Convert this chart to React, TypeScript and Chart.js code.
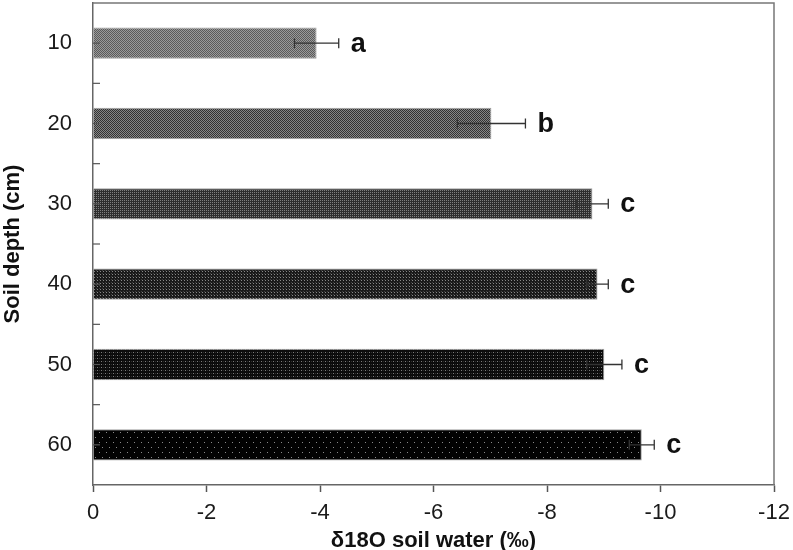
import React, { useEffect, useRef } from "react";
import { Chart, registerables } from "chart.js";

Chart.register(...registerables);

const depths = ["10", "20", "30", "40", "50", "60"];
const means = [-3.94, -7.02, -8.8, -8.89, -9.01, -9.67];
const errors = [0.39, 0.6, 0.28, 0.19, 0.31, 0.22];
const letters = ["a", "b", "c", "c", "c", "c"];
const xTicks = [0, -2, -4, -6, -8, -10, -12];

type Dot = [number, number, string];
function makePattern(w: number, h: number, bg: string, dots: Dot[]): CanvasPattern | string {
  const c = document.createElement("canvas");
  c.width = w;
  c.height = h;
  const g = c.getContext("2d");
  if (!g) return bg;
  g.fillStyle = bg;
  g.fillRect(0, 0, w, h);
  for (const [x, y, col] of dots) {
    g.fillStyle = col;
    g.fillRect(x, y, 1, 1);
  }
  return g.createPattern(c, "repeat") || bg;
}

export default function App() {
  const ref = useRef<HTMLCanvasElement | null>(null);

  useEffect(() => {
    if (!ref.current) return;
    const patterns = [
      makePattern(2, 2, "#9a9a9a", [[0, 0, "#5a5a5a"], [1, 1, "#5a5a5a"]]),
      makePattern(2, 2, "#868686", [[0, 0, "#323232"], [1, 1, "#323232"]]),
      makePattern(2, 2, "#2e2e2e", [[0, 0, "#808080"]]),
      makePattern(3, 3, "#1a1a1a", [[1, 1, "#888"], [0, 0, "#404040"]]),
      makePattern(4, 3, "#0c0c0c", [[1, 1, "#7a7a7a"], [3, 1, "#2c2c2c"]]),
      makePattern(7, 10, "#020202", [[1, 2, "#8a8a8a"], [4, 7, "#8a8a8a"]]),
    ];

    const overlay = {
      id: "overlay",
      afterDatasetsDraw(chart: any) {
        const ctx = chart.ctx;
        const xs = chart.scales.x;
        const ys = chart.scales.y;
        const area = chart.chartArea;
        ctx.save();
        ctx.strokeStyle = "#555";
        ctx.lineWidth = 1.2;
        for (let i = 0; i < depths.length; i++) {
          const yc = ys.getPixelForValue(i);
          const marks = [yc];
          if (i < depths.length - 1) marks.push((yc + ys.getPixelForValue(i + 1)) / 2);
          for (const yy of marks) {
            ctx.beginPath();
            ctx.moveTo(area.left, yy);
            ctx.lineTo(area.left + 7, yy);
            ctx.stroke();
          }
        }
        ctx.strokeStyle = "#777";
        ctx.lineWidth = 1.5;
        ctx.beginPath();
        ctx.moveTo(area.left, area.top);
        ctx.lineTo(area.right, area.top);
        ctx.lineTo(area.right, area.bottom);
        ctx.stroke();
        for (let i = 0; i < means.length; i++) {
          const y = ys.getPixelForValue(i);
          const x1 = xs.getPixelForValue(means[i] + errors[i]);
          const x2 = xs.getPixelForValue(means[i] - errors[i]);
          ctx.strokeStyle = "#333";
          ctx.lineWidth = 1.3;
          ctx.beginPath();
          ctx.moveTo(x1, y);
          ctx.lineTo(x2, y);
          ctx.moveTo(x1, y - 5);
          ctx.lineTo(x1, y + 5);
          ctx.moveTo(x2, y - 5);
          ctx.lineTo(x2, y + 5);
          ctx.stroke();
          ctx.fillStyle = "#111";
          ctx.font = "bold 27px 'Liberation Sans', Arial, sans-serif";
          ctx.textAlign = "left";
          ctx.textBaseline = "middle";
          ctx.fillText(letters[i], x2 + 12, y + 1);
        }
        ctx.restore();
      },
    };

    const chart = new Chart(ref.current, {
      type: "bar",
      data: {
        labels: depths,
        datasets: [
          {
            data: means,
            backgroundColor: patterns as any,
            borderColor: "#a0a0a0",
            borderWidth: 1,
            categoryPercentage: 1,
            barPercentage: 0.39,
          },
        ],
      },
      options: {
        indexAxis: "y",
        responsive: false,
        animation: false,
        layout: { padding: { top: 3, right: 19, left: 0, bottom: 0 } },
        plugins: { legend: { display: false }, tooltip: { enabled: false } },
        scales: {
          x: {
            type: "linear",
            min: -12,
            max: 0,
            reverse: true,
            afterBuildTicks: (s: any) => {
              s.ticks = xTicks.map((v) => ({ value: v }));
            },
            afterFit: (s: any) => {
              s.height = 65;
              s.paddingLeft = 0;
              s.paddingRight = 0;
              s.paddingTop = 0;
              s.paddingBottom = 0;
            },
            grid: { drawOnChartArea: false, drawTicks: true, tickLength: 7, tickColor: "#555", tickWidth: 1.5 },
            border: { display: true, color: "#666", width: 1.5 },
            ticks: {
              padding: 8,
              color: "#1a1a1a",
              font: { family: "'Liberation Sans', Arial, sans-serif", size: 22 },
              callback: (v: any) => String(v),
            },
            title: {
              display: true,
              text: "δ18O soil water (‰)",
              color: "#111",
              padding: { top: 0, bottom: -2 },
              font: { family: "'Liberation Sans', Arial, sans-serif", size: 22, weight: "bold", lineHeight: 1 },
            },
          },
          y: {
            type: "category",
            afterFit: (s: any) => {
              s.width = 93;
              s.paddingLeft = 0;
              s.paddingRight = 0;
              s.paddingTop = 0;
              s.paddingBottom = 0;
            },
            grid: { display: false, drawTicks: false, tickLength: 0 },
            border: { display: true, color: "#666", width: 1.5 },
            ticks: {
              padding: 21,
              color: "#1a1a1a",
              font: { family: "'Liberation Sans', Arial, sans-serif", size: 22 },
            },
            title: {
              display: true,
              text: "Soil depth (cm)",
              color: "#111",
              padding: { top: 2, bottom: 0 },
              font: { family: "'Liberation Sans', Arial, sans-serif", size: 22, weight: "bold", lineHeight: 1 },
            },
          },
        },
      },
      plugins: [overlay],
    } as any);
    return () => chart.destroy();
  }, []);

  return (
    <div style={{ position: "absolute", left: 0, top: 0, width: 793, height: 550, background: "#fff" }}>
      <canvas ref={ref} width={793} height={550} style={{ display: "block" }} />
    </div>
  );
}
